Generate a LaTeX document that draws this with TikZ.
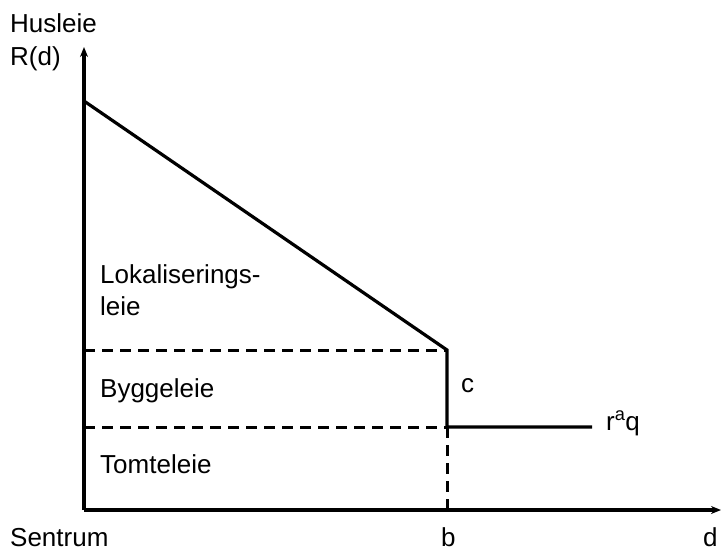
\documentclass[tikz,border=0pt]{standalone}
\usepackage{fontspec}
\setmainfont{Liberation Sans}
\usetikzlibrary{arrows.meta}
\begin{document}
\begin{tikzpicture}[x=1pt,y=-1pt,
  lbl/.style={font=\fontsize{26}{30}\selectfont, inner sep=0pt, anchor=base west},
  axis/.style={line width=3.2pt, -{Stealth[length=10pt,width=8pt]}},
  curve/.style={line width=3.2pt},
  guide/.style={line width=3pt, dash pattern=on 11pt off 7pt}]
\useasboundingbox (0,0) rectangle (722,551);
% axes
\coordinate (O) at (84,510);
\coordinate (ytop) at (84,47);
\coordinate (xend) at (721,510);
\draw[axis] (O) -- (ytop);
\draw[axis] (O) -- (xend);
% rent curve
\coordinate (A) at (84,101);
\coordinate (K) at (447,350);
\coordinate (M) at (447,427);
\coordinate (E) at (592,427);
\coordinate (B) at (447,510);
\coordinate (Ly) at (84,350);
\coordinate (My) at (84,427);
\draw[curve, line join=miter] (A) -- (K) -- (M) -- (E);
\draw[guide] (Ly) -- (K);
\draw[guide] (My) -- (M);
\draw[guide] (M) -- (B);
% labels
\node[lbl] (hus) at (10,33) {Husleie};
\node[lbl] (rd) at (10,65) {R(d)};
\node[lbl] (lok) at (100,283) {Lokaliserings-};
\node[lbl] (leie) at (100,315) {leie};
\node[lbl] (bygg) at (100,397) {Byggeleie};
\node[lbl] (tomt) at (100,473) {Tomteleie};
\node[lbl] (c) at (461,392) {c};
\node[lbl] (raq) at (606,430) {r\textsuperscript{a}q};
\node[lbl] (sentrum) at (10,546) {Sentrum};
\node[lbl] (b) at (441,546) {b};
\node[lbl] (d) at (703,546) {d};
\end{tikzpicture}
\end{document}
